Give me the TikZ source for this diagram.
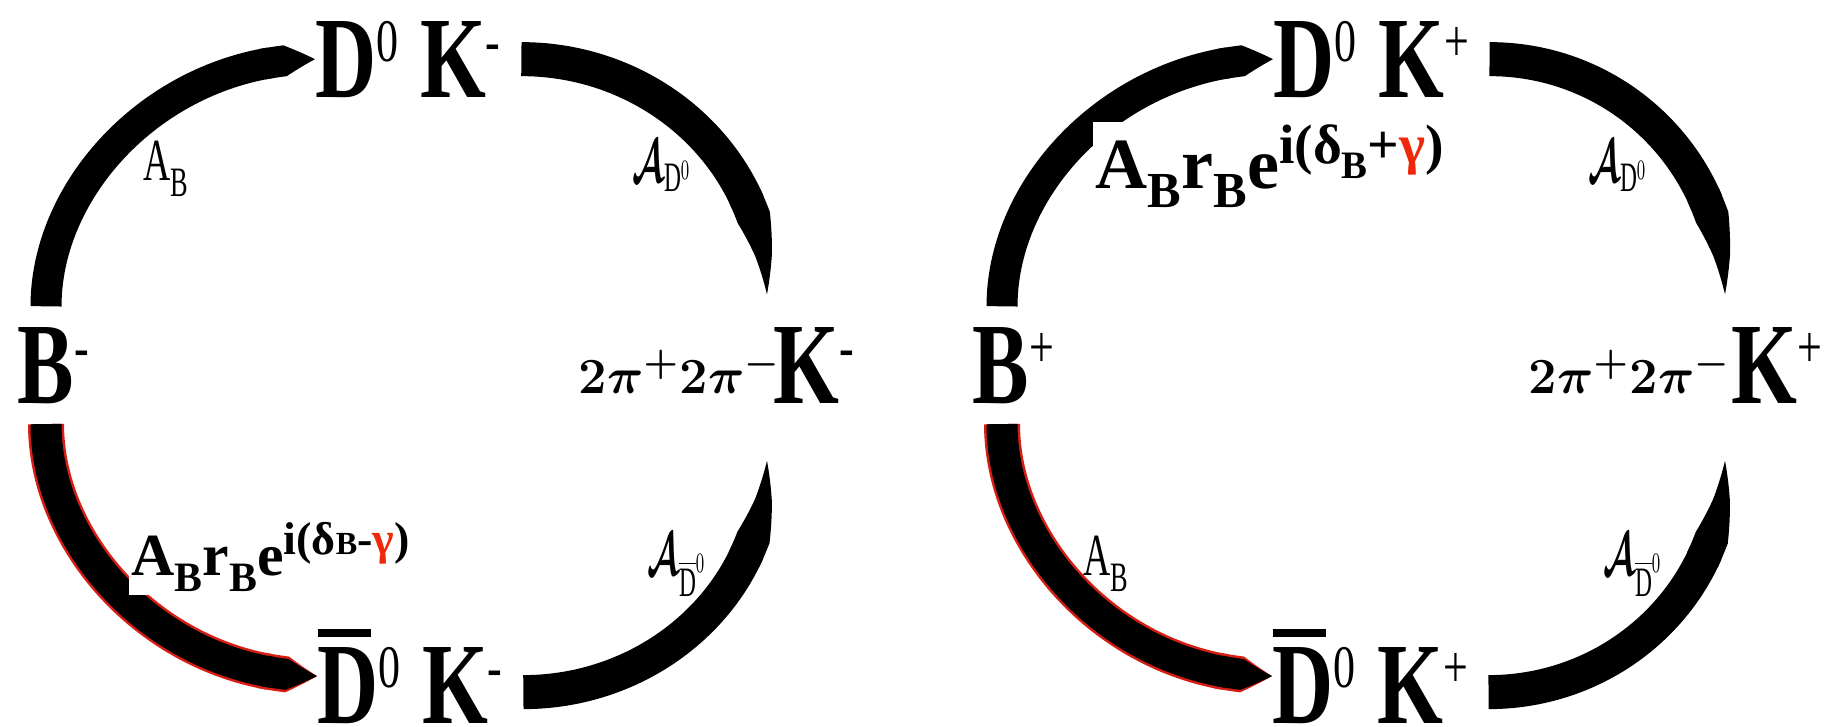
\documentclass[tikz,border=0pt]{standalone}
\usepackage{amsmath}
\usepackage{fontspec}
\setmainfont{Liberation Serif}
\newfontfamily\partfont[FakeStretch=0.73]{Liberation Serif}
\newfontfamily\ampfont[FakeStretch=0.63]{Liberation Serif}
\usetikzlibrary{arrows.meta,bending}
\definecolor{gam}{RGB}{240,40,10}
\definecolor{glow}{RGB}{215,30,20}
\newcommand{\supsc}[1]{\raisebox{0.67ex}{\scalebox{0.52}{\mdseries #1}}}
\newcommand{\subsc}[1]{\raisebox{-0.6ex}{\scalebox{0.7}{#1}}}
\newcommand{\Dbar}{\makebox[0pt][l]{\rule[0.86cm]{0.53cm}{0.08cm}}D}

\tikzset{
  particle/.style={anchor=base west, inner sep=0pt, font=\partfont\bfseries\fontsize{33pt}{38pt}\selectfont},
  pions/.style={anchor=base west, inner sep=0pt, font=\fontsize{15.4pt}{18pt}\selectfont},
  amp/.style={anchor=base west, inner sep=0pt, font=\ampfont\fontsize{17pt}{20pt}\selectfont},
  phase/.style={anchor=base west, fill=white, inner sep=0.03cm, font=\bfseries\fontsize{17pt}{20pt}\selectfont},
  ampline/.style={line width=0.31cm, shorten <=0.2cm, -{Triangle Cap[length=0.3cm, bend]}},
  taperline/.style={line width=0.34cm, -{Triangle Cap[length=0.8cm, bend]}},
  glowing/.style={preaction={draw=glow, line width=0.36cm}}
}

\begin{document}
\begin{tikzpicture}[x=0.01cm, y=0.01cm]
  \useasboundingbox (0,0) rectangle (1831,-726);

  % B^- side
  \node[particle] (Bm) at (17,-403) {B\supsc{-}};
  \node[particle] (DKm) at (315,-97) {D\supsc{0} K\supsc{-}};
  \node[particle] (DbKm) at (317,-723) {\Dbar\supsc{0} K\supsc{-}};
  \node[particle] (Km) at (773,-403) {K\supsc{-}};
  \node[pions] (pim) at (578,-393) {$\boldsymbol{2\pi^{+}2\pi^{-}}$};

  \draw[ampline] ([xshift=0.29cm]Bm.north west) to[out=90,in=180] (DKm.west);
  \draw[ampline, glowing] ([xshift=0.29cm]Bm.south west) to[out=-90,in=180] (DbKm.west);
  \draw[taperline] ([xshift=0.2cm]DKm.east) to[out=0,in=90] ([shift={(-0.06cm,0.32cm)}]Km.north west);
  \draw[taperline] ([shift={(0.2cm,-0.16cm)}]DbKm.east) to[out=0,in=-90] ([shift={(-0.06cm,-0.57cm)}]Km.south west);

  \node[amp] (abm) at (143,-180) {A\subsc{B}};
  \node[amp] (adm) at (632,-182) {\scalebox{0.56}[1]{$\boldsymbol{\mathcal{A}}_{\mathrm{D}^0}$}};
  \node[amp] (adbm) at (647,-575) {\scalebox{0.56}[1]{$\boldsymbol{\mathcal{A}}_{\overline{\mathrm{D}}^0}$}};
  \node[phase] (phm) at (128,-575) {A\subsc{B}r\subsc{B}e\raisebox{0.74ex}{\scalebox{0.77}{i(δ\scalebox{0.7}{B}-\textcolor{gam}{γ})}}};

  % B^+ side
  \node[particle] (Bp) at (972,-403) {B\supsc{+}};
  \node[particle] (DKp) at (1273,-97) {D\supsc{0} K\supsc{+}};
  \node[particle] (DbKp) at (1272,-723) {\Dbar\supsc{0} K\supsc{+}};
  \node[particle] (Kp) at (1731,-403) {K\supsc{+}};
  \node[pions] (pip) at (1528,-393) {$\boldsymbol{2\pi^{+}2\pi^{-}}$};

  \draw[ampline] ([xshift=0.30cm]Bp.north west) to[out=90,in=180] (DKp.west);
  \draw[ampline, glowing] ([xshift=0.30cm]Bp.south west) to[out=-90,in=180] (DbKp.west);
  \draw[taperline] ([xshift=0.2cm]DKp.east) to[out=0,in=90] ([shift={(-0.06cm,0.32cm)}]Kp.north west);
  \draw[taperline] ([shift={(0.2cm,-0.16cm)}]DbKp.east) to[out=0,in=-90] ([shift={(-0.06cm,-0.57cm)}]Kp.south west);

  \node[amp] (abp) at (1083,-575) {A\subsc{B}};
  \node[amp] (adp) at (1588,-182) {\scalebox{0.56}[1]{$\boldsymbol{\mathcal{A}}_{\mathrm{D}^0}$}};
  \node[amp] (adbp) at (1603,-575) {\scalebox{0.56}[1]{$\boldsymbol{\mathcal{A}}_{\overline{\mathrm{D}}^0}$}};
  \node[phase, font=\bfseries\fontsize{20.5pt}{24pt}\selectfont] (php) at (1092,-188) {A\subsc{B}r\subsc{B}e\raisebox{0.74ex}{\scalebox{0.77}{i(δ\subsc{B}+\textcolor{gam}{γ})}}};
\end{tikzpicture}
\end{document}
